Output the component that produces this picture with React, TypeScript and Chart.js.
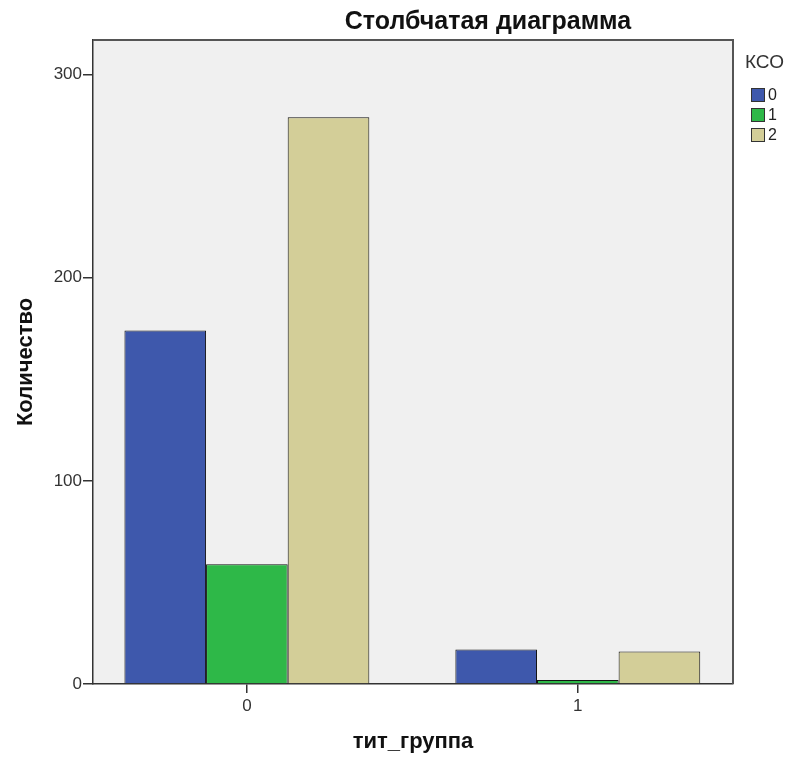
import React, { useEffect, useRef } from "react";
import { Chart, registerables } from "chart.js";

Chart.register(...registerables);

const categories = ["0", "1"];
const seriesLabels = ["0", "1", "2"];
const series0 = [174, 17];
const series1 = [59, 2];
const series2 = [279, 16];
const yTicks = [0, 100, 200, 300];
const colors = ["#3e58ac", "#2eb848", "#d3ce98"];

const chartTitle = "Столбчатая диаграмма";
const yTitle = "Количество";
const xTitle = "тит_группа";
const legendTitle = "КСО";

const FONT = "'Liberation Sans', Arial, sans-serif";

export default function App() {
  const ref = useRef<HTMLCanvasElement>(null);

  useEffect(() => {
    document.body.style.margin = "0";
    const canvas = ref.current;
    if (!canvas) return;

    const decor = {
      id: "decor",
      beforeDraw(chart: any) {
        const { ctx, chartArea: a } = chart;
        ctx.save();
        ctx.fillStyle = "#f0f0f0";
        ctx.fillRect(a.left, a.top, a.right - a.left, a.bottom - a.top);
        ctx.restore();
      },
      afterDraw(chart: any) {
        const { ctx, chartArea: a } = chart;
        ctx.save();
        ctx.strokeStyle = "#555";
        ctx.lineWidth = 2;
        ctx.beginPath();
        ctx.moveTo(a.left, a.top);
        ctx.lineTo(a.right, a.top);
        ctx.lineTo(a.right, a.bottom);
        ctx.stroke();

        // title
        ctx.fillStyle = "#111";
        ctx.font = `bold 25px ${FONT}`;
        ctx.textAlign = "center";
        ctx.textBaseline = "middle";
        ctx.fillText(chartTitle, 488, 22);

        // x title
        ctx.font = `bold 22px ${FONT}`;
        ctx.fillText(xTitle, (a.left + a.right) / 2, 742);

        // y title
        ctx.save();
        ctx.translate(26, (a.top + a.bottom) / 2);
        ctx.rotate(-Math.PI / 2);
        ctx.fillText(yTitle, 0, 0);
        ctx.restore();

        // legend
        ctx.fillStyle = "#333";
        ctx.font = `19px ${FONT}`;
        ctx.textAlign = "left";
        ctx.fillText(legendTitle, 745, 63);
        ctx.font = `16px ${FONT}`;
        seriesLabels.forEach((lab, i) => {
          const y = 88 + i * 20;
          ctx.fillStyle = colors[i];
          ctx.fillRect(751, y, 14, 14);
          ctx.strokeStyle = "#333";
          ctx.lineWidth = 1;
          ctx.strokeRect(751.5, y + 0.5, 13, 13);
          ctx.fillStyle = "#222";
          ctx.fillText(lab, 768, y + 8);
        });
        ctx.restore();
      },
    };

    const data = [series0, series1, series2];
    const chart = new Chart(canvas, {
      type: "bar",
      data: {
        labels: categories,
        datasets: seriesLabels.map((lab, i) => ({
          label: lab,
          data: data[i],
          backgroundColor: colors[i],
          borderColor: "#111",
          borderWidth: 1,
          borderSkipped: "start",
          categoryPercentage: 0.74,
          barPercentage: 1,
        })),
      },
      options: {
        responsive: false,
        animation: false,
        layout: { padding: { top: 40, right: 58, left: 0, bottom: 0 } },
        plugins: {
          legend: { display: false },
          title: { display: false },
          tooltip: { enabled: false },
        },
        scales: {
          x: {
            grid: { offset: false, drawOnChartArea: false, drawTicks: true, tickLength: 9, color: "#333", lineWidth: 1.5 },
            border: { display: true, color: "#333", width: 1.5 },
            ticks: { color: "#333", font: { size: 17, family: FONT }, padding: 3 },
            afterBuildTicks: (s: any) => {
              s._startValue = -0.465;
              s._valueRange = 1.934;
            },
            afterFit: (s: any) => { s.height = 76; },
          },
          y: {
            min: 0,
            max: 317,
            grid: { drawOnChartArea: false, drawTicks: true, tickLength: 10, color: "#333", lineWidth: 1.5 },
            border: { display: true, color: "#333", width: 1.5 },
            ticks: { stepSize: 100, color: "#333", font: { size: 17, family: FONT }, padding: 1 },
            afterBuildTicks: (s: any) => {
              s.ticks = yTicks.map((v) => ({ value: v }));
            },
            afterFit: (s: any) => { s.width = 93; },
          },
        },
      },
      plugins: [decor],
    });
    return () => chart.destroy();
  }, []);

  return (
    <div style={{ width: 791, height: 760 }}>
      <canvas ref={ref} width={791} height={760} style={{ display: "block" }} />
    </div>
  );
}
